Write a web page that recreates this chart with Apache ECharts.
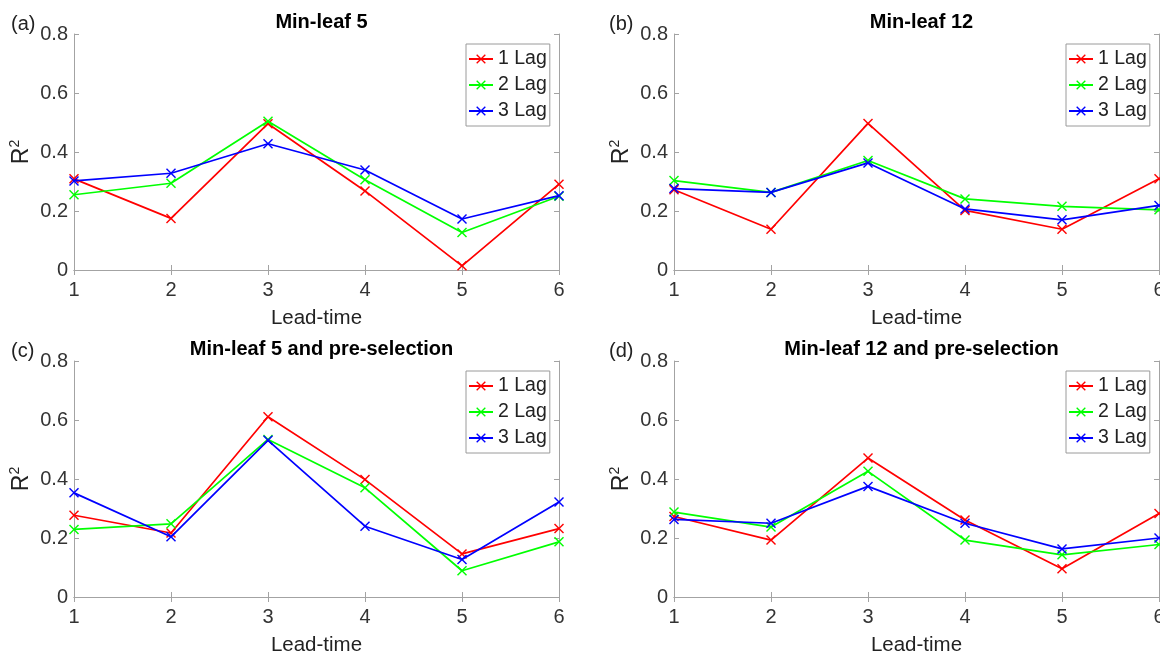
<!DOCTYPE html>
<html>
<head>
<meta charset="utf-8">
<script src="https://cdn.jsdelivr.net/npm/echarts@6/dist/echarts.min.js"></script>
<style>html,body{margin:0;padding:0;background:#fff;}#c{width:1160px;height:654px;}</style>
</head>
<body>
<div id="c"></div>
<script>
// ---- data ----
const leadTimes = [1, 2, 3, 4, 5, 6];
const seriesNames = ['1 Lag', '2 Lag', '3 Lag'];
const panelTitles = ['Min-leaf 5', 'Min-leaf 12', 'Min-leaf 5 and pre-selection', 'Min-leaf 12 and pre-selection'];
const panelTags = ['(a)', '(b)', '(c)', '(d)'];
const yTicks = [0, 0.2, 0.4, 0.6, 0.8];

const a_lag1 = [0.309, 0.175, 0.496, 0.268, 0.014, 0.291];
const a_lag2 = [0.255, 0.294, 0.504, 0.306, 0.127, 0.250];
const a_lag3 = [0.302, 0.328, 0.428, 0.339, 0.173, 0.252];

const b_lag1 = [0.272, 0.138, 0.497, 0.202, 0.138, 0.309];
const b_lag2 = [0.303, 0.263, 0.371, 0.241, 0.216, 0.204];
const b_lag3 = [0.276, 0.263, 0.363, 0.207, 0.170, 0.219];

const c_lag1 = [0.277, 0.217, 0.611, 0.398, 0.146, 0.232];
const c_lag2 = [0.229, 0.248, 0.534, 0.370, 0.089, 0.187];
const c_lag3 = [0.353, 0.204, 0.531, 0.240, 0.127, 0.322];

const d_lag1 = [0.273, 0.193, 0.471, 0.261, 0.096, 0.283];
const d_lag2 = [0.288, 0.237, 0.426, 0.193, 0.143, 0.178];
const d_lag3 = [0.263, 0.250, 0.375, 0.250, 0.163, 0.200];

const panels = [
  [a_lag1, a_lag2, a_lag3],
  [b_lag1, b_lag2, b_lag3],
  [c_lag1, c_lag2, c_lag3],
  [d_lag1, d_lag2, d_lag3]
];

// ---- styling / layout ----
const colors = ['#ff0000', '#00ff00', '#0000ff'];
const FONT = 'Arial, "Liberation Sans", Helvetica, sans-serif';
const AXIS_GRAY = '#a3a3a3';
const LABEL_COLOR = '#333333';
const grids = [
  { left: 74, top: 34, width: 485, height: 236 },
  { left: 674, top: 34, width: 485, height: 236 },
  { left: 74, top: 361, width: 485, height: 236 },
  { left: 674, top: 361, width: 485, height: 236 }
];
const crossPath = 'path://M0,1L1,0L5,4L9,0L10,1L6,5L10,9L9,10L5,6L1,10L0,9L4,5Z';

const option = {
  backgroundColor: '#ffffff',
  animation: false,
  title: [],
  legend: [],
  grid: [],
  xAxis: [],
  yAxis: [],
  series: []
};

grids.forEach((g, i) => {
  option.grid.push({
    left: g.left, top: g.top, width: g.width, height: g.height,
    show: false, containLabel: false, outerBoundsMode: 'none'
  });
  const cx = g.left + g.width / 2;
  option.title.push({
    text: panelTitles[i], left: cx, top: g.top - 27, textAlign: 'center',
    textStyle: { fontFamily: FONT, fontSize: 20, fontWeight: 'bold', color: '#000' }
  });
  option.title.push({
    text: panelTags[i], left: (i % 2 === 0 ? 6 : 604), top: g.top - 25,
    textStyle: { fontFamily: FONT, fontSize: 20, fontWeight: 'normal', color: '#222' }
  });
  option.legend.push({
    data: seriesNames, orient: 'vertical',
    left: g.left + 392, top: g.top + 10,
    padding: [5, 3, 5, 2], itemGap: 6, itemWidth: 24, itemHeight: 12, itemTextGap: 2,
    borderColor: '#9a9a9a', borderWidth: 1, backgroundColor: '#ffffff',
    textStyle: { fontFamily: FONT, fontSize: 19.5, color: '#222', lineHeight: 20 },
    selectedMode: false
  });
  // bottom x
  option.xAxis.push({
    type: 'value', gridIndex: i, min: 1, max: 6, interval: 1, position: 'bottom',
    name: 'Lead-time', nameLocation: 'middle', nameGap: 38,
    nameTextStyle: { fontFamily: FONT, fontSize: 20.5, color: '#222' },
    axisLine: { show: true, lineStyle: { color: AXIS_GRAY, width: 1 } },
    axisTick: { show: true, inside: true, length: 5, lineStyle: { color: AXIS_GRAY } },
    axisLabel: { fontFamily: FONT, fontSize: 20, color: LABEL_COLOR, margin: 10 },
    splitLine: { show: false }
  });
  // top x (ticks only)
  option.xAxis.push({
    type: 'value', gridIndex: i, min: 1, max: 6, interval: 1, position: 'top',
    axisLine: { show: true, lineStyle: { color: AXIS_GRAY, width: 1 } },
    axisTick: { show: true, inside: true, length: 5, lineStyle: { color: AXIS_GRAY } },
    axisLabel: { show: false }, splitLine: { show: false }
  });
  // left y
  option.yAxis.push({
    type: 'value', gridIndex: i, min: 0, max: 0.8, interval: 0.2, position: 'left',
    name: '{r|R}{s|2}', nameLocation: 'middle', nameGap: 38, nameRotate: 90,
    nameTextStyle: {
      fontFamily: FONT, color: '#222', fontSize: 23,
      rich: {
        r: { fontFamily: FONT, fontSize: 23, lineHeight: 28, color: '#222' },
        s: { fontFamily: FONT, fontSize: 14, lineHeight: 14, verticalAlign: 'top', color: '#222' }
      }
    },
    axisLine: { show: true, lineStyle: { color: AXIS_GRAY, width: 1 } },
    axisTick: { show: true, inside: true, length: 5, lineStyle: { color: AXIS_GRAY } },
    axisLabel: { fontFamily: FONT, fontSize: 20, color: LABEL_COLOR, margin: 6 },
    splitLine: { show: false }
  });
  // right y (ticks only)
  option.yAxis.push({
    type: 'value', gridIndex: i, min: 0, max: 0.8, interval: 0.2, position: 'right',
    axisLine: { show: true, lineStyle: { color: AXIS_GRAY, width: 1 } },
    axisTick: { show: true, inside: true, length: 5, lineStyle: { color: AXIS_GRAY } },
    axisLabel: { show: false }, splitLine: { show: false }
  });
  panels[i].forEach((vals, k) => {
    option.series.push({
      name: seriesNames[k], type: 'line',
      xAxisIndex: 2 * i, yAxisIndex: 2 * i,
      data: leadTimes.map((x, j) => [x, vals[j]]),
      symbol: crossPath, symbolSize: 10, showSymbol: true,
      lineStyle: { color: colors[k], width: 1.7 },
      itemStyle: { color: colors[k] },
      clip: false, z: 2 + k
    });
  });
});

const chart = echarts.init(document.getElementById('c'), null, { renderer: 'canvas' });
chart.setOption(option);
</script>
</body>
</html>
